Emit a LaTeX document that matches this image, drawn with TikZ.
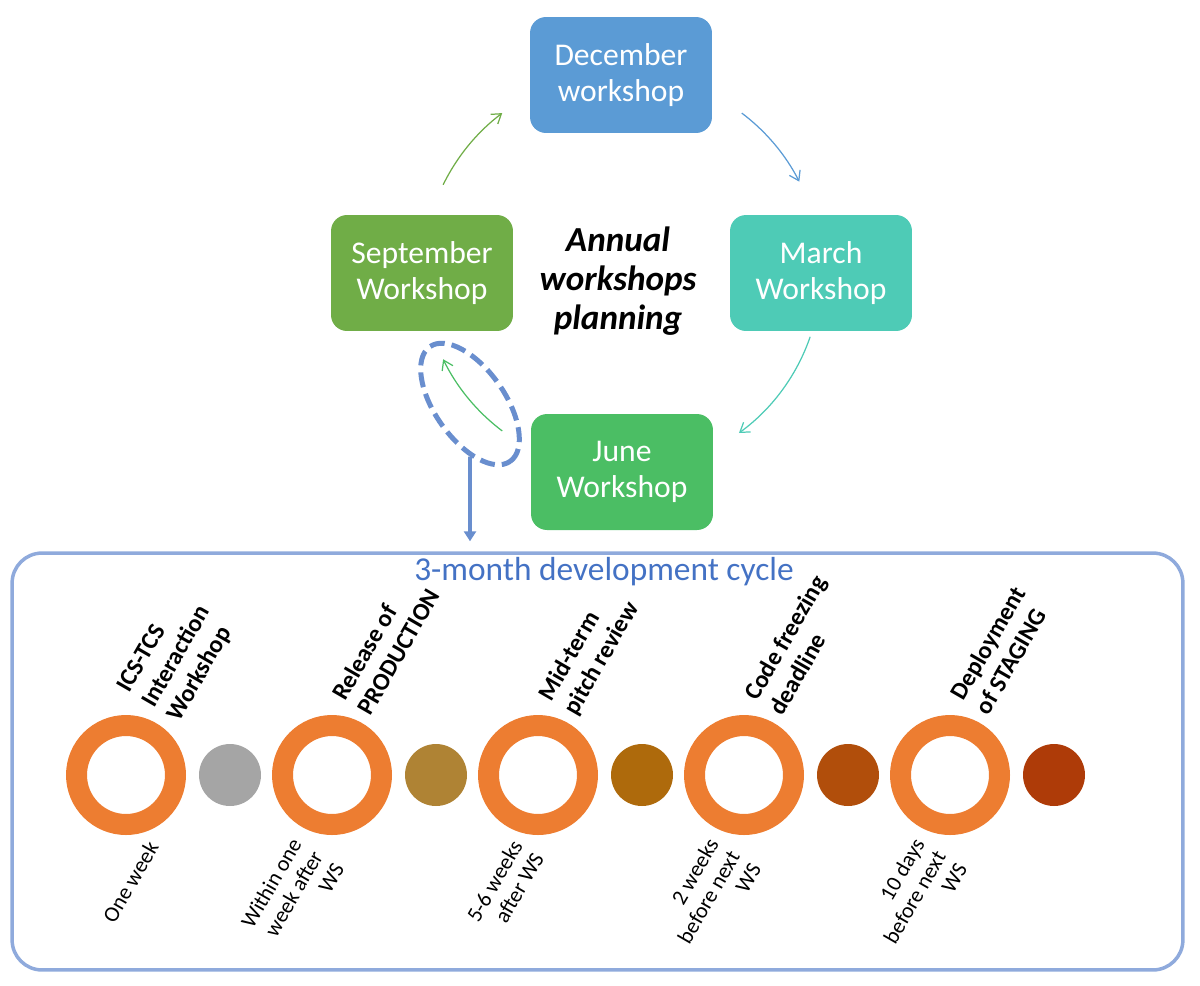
\documentclass[tikz,border=0pt]{standalone}
\usepackage{fontspec}
\setmainfont{Carlito}
\usetikzlibrary{arrows.meta,positioning,calc,shapes.geometric}
\definecolor{decc}{RGB}{91,155,213}
\definecolor{sepc}{RGB}{112,173,71}
\definecolor{marc}{RGB}{78,203,182}
\definecolor{junc}{RGB}{75,190,100}
\definecolor{loopc}{RGB}{105,142,206}
\definecolor{framec}{RGB}{143,170,220}
\definecolor{titlec}{RGB}{68,114,196}
\definecolor{ringc}{RGB}{237,125,49}
\definecolor{dotA}{RGB}{165,165,165}
\definecolor{dotB}{RGB}{175,131,52}
\definecolor{dotC}{RGB}{174,106,12}
\definecolor{dotD}{RGB}{177,78,11}
\definecolor{dotE}{RGB}{174,59,8}
\tikzset{
  wbox/.style={rounded corners=0.32cm, minimum width=3.64cm, minimum height=2.32cm,
               inner sep=2pt, text=white, align=center, font=\fontsize{18}{20.5}\selectfont},
  hubtext/.style={align=center, inner sep=0pt, font=\fontsize{20}{22}\selectfont\bfseries\itshape},
  turn/.style={-{Straight Barb[length=1.8mm,width=2.4mm]}, line width=0.7pt},
  loopring/.style={ellipse, draw=loopc, line width=0.1cm, dash pattern=on 0.3cm off 0.14cm,
               minimum width=2.8cm, minimum height=1.4cm, inner sep=0pt},
  drop/.style={-{Triangle[length=2mm,width=2.4mm]}, loopc, line width=2pt},
  frame/.style={draw=framec, line width=0.07cm, rounded corners=0.6cm,
               minimum width=23.42cm, minimum height=8.34cm},
  ring/.style={circle, draw=ringc, line width=0.42cm, minimum size=1.98cm, inner sep=0pt},
  dot/.style={circle, minimum size=1.24cm, inner sep=0pt},
  uplabel/.style={rotate=60, anchor=south west, align=left, inner sep=0pt,
               font=\fontsize{14}{16.5}\selectfont\bfseries},
  lowlabel/.style={rotate=60, anchor=north east, align=right, inner sep=0pt,
               font=\fontsize{12.5}{14}\selectfont},
}
\begin{document}
\begin{tikzpicture}[x=0.02cm, y=-0.02cm]
  \useasboundingbox (0,0) rectangle (1200,985);
  % annual cycle
  \node[wbox, fill=decc] (dec) at (621,75) {December\\workshop};
  \node[wbox, fill=sepc] (sep) at (422,273) {September\\Workshop};
  \node[wbox, fill=marc] (mar) at (821,273) {March\\Workshop};
  \node[wbox, fill=junc] (jun) at (622,472) {June\\Workshop};
  \node[hubtext] (plan) at (618,281) {Annual\\workshops\\planning};
  \coordinate (hub) at (622,272);
  \foreach \i/\s/\e/\c in {1/206/233/sepc, 2/307/333/decc, 3/19/54/marc, 4/127/154/junc} {
    \coordinate (t\i) at ($(hub)+(\s:199)$);
    \draw[turn, \c] (t\i) arc[start angle=\s, end angle=\e, radius=199];
  }
  \node[loopring, rotate=-55] (loop) at (470,404) {};
  % development cycle
  \node[frame] (cyc) at (597.5,761.5) {};
  \draw[drop, shorten >=0.2cm] (loop) -- (loop |- cyc.north);
  \node[text=titlec, font=\fontsize{19}{21}\selectfont] (ttl) at (604,572) {3-month development cycle};
  \foreach \i/\x in {1/126, 2/332, 3/538, 4/744, 5/950}
    \node[ring] (r\i) at (\x,775) {};
  \foreach \i/\x/\c in {1/230/dotA, 2/436/dotB, 3/642/dotC, 4/848/dotD, 5/1054/dotE}
    \node[dot, fill=\c] (d\i) at (\x,775) {};
  \node[uplabel] (u1) at ($(r1)+(57,-50)$) {ICS-TCS\\Interaction\\Workshop};
  \node[uplabel] (u2) at ($(r2)+(39,-58)$) {Release of\\PRODUCTION};
  \node[uplabel] (u3) at ($(r3)+(42,-56)$) {Mid-term\\pitch review};
  \node[uplabel] (u4) at ($(r4)+(39,-58)$) {Code freezing\\deadline};
  \node[uplabel] (u5) at ($(r5)+(39,-58)$) {Deployment\\of STAGING};
  \node[lowlabel] (l1) at ($(r1)+(20,64)$) {One week};
  \node[lowlabel] (l2) at ($(r2)+(-43,61)$) {Within one\\week after\\WS};
  \node[lowlabel] (l3) at ($(r3)+(-28,63)$) {5-6 weeks\\after WS};
  \node[lowlabel] (l4) at ($(r4)+(-38,61)$) {2 weeks\\before next\\WS};
  \node[lowlabel] (l5) at ($(r5)+(-38,61)$) {10 days\\before next\\WS};
\end{tikzpicture}
\end{document}
